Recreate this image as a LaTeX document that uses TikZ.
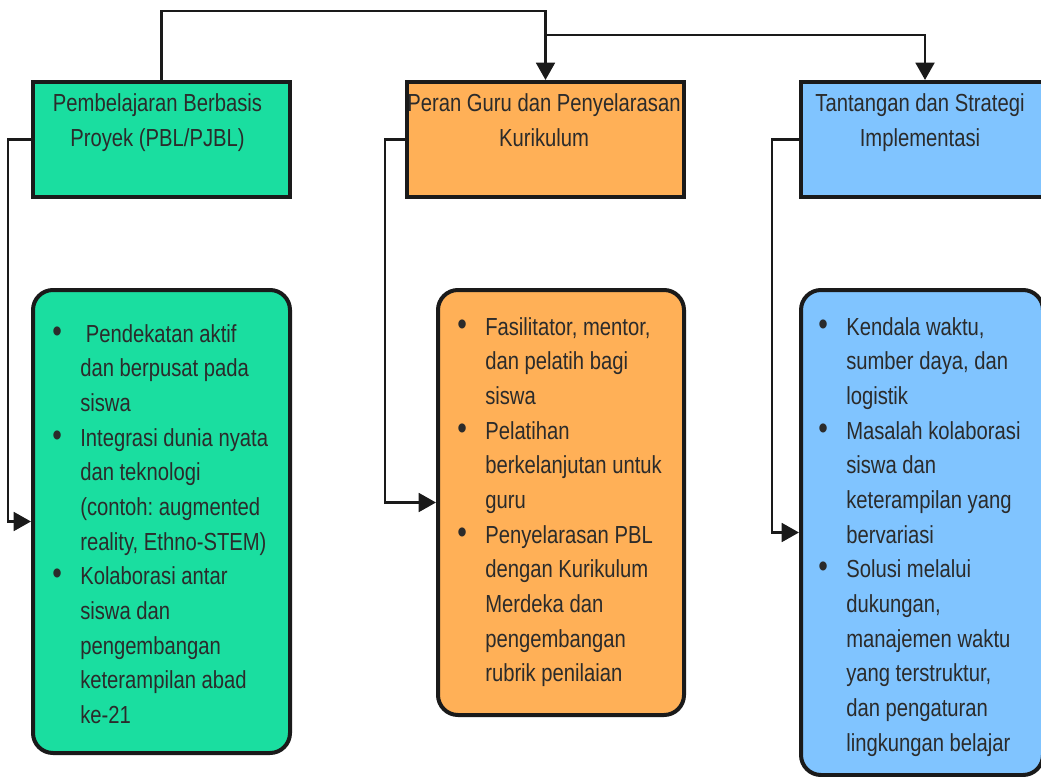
\documentclass[tikz,border=0pt]{standalone}
\usepackage{fontspec}
\setmainfont{Liberation Sans}[FakeStretch=0.82]
\usetikzlibrary{arrows.meta}
\definecolor{cgreen}{HTML}{1ADEA0}
\definecolor{corange}{HTML}{FFB057}
\definecolor{cblue}{HTML}{80C4FF}
\definecolor{cline}{HTML}{1A1A1A}
\definecolor{ctext}{HTML}{2B2B2B}
\frenchspacing
\newcommand{\bul}{\makebox[0pt]{\fontsize{25}{26}\selectfont\textbullet}}
\newenvironment{blist}{\begin{tabular}[t]{@{}l@{\hspace{17.25pt}}l@{}}}{\end{tabular}}
\begin{document}
\begin{tikzpicture}[x=0.75pt,y=-0.75pt,
  hdr/.style={draw=cline, line width=3pt, minimum height=86.25pt, inner sep=0pt},
  bodybox/.style={draw=cline, line width=3pt, rounded corners=15pt, inner sep=0pt},
  htxt/.style={inner sep=0pt, text=ctext, anchor=base, font=\fontsize{18.5}{26}\selectfont},
  btxt/.style={inner sep=0pt, text=ctext, anchor=base west, font=\fontsize{18.5}{26}\selectfont},
  conn/.style={draw=cline, line width=2.2pt},
  tip/.style={-{Triangle[length=13pt,width=14pt]}}]
\useasboundingbox (0,0) rectangle (1041,777);
\fill[white] (0,0) rectangle (1041,777);

% headers
\node[hdr, fill=cgreen, minimum width=192.75pt] (h1) at (161.5,139.5) {};
\node[hdr, fill=corange, minimum width=207.75pt] (h2) at (545.5,139.5) {};
\node[hdr, fill=cblue, minimum width=186pt] (h3) at (925,139.5) {};

\node[htxt] (h1t) at (157.5,112) {\parbox[t]{220pt}{\centering Pembelajaran Berbasis\\Proyek (PBL/PJBL)}};
\node[htxt] (h2t) at (544,112) {\parbox[t]{220pt}{\centering Peran Guru dan Penyelarasan\\Kurikulum}};
\node[htxt] (h3t) at (920,112) {\parbox[t]{220pt}{\centering Tantangan dan Strategi\\Implementasi}};

% bodies
\node[bodybox, fill=cgreen, minimum width=192.75pt, minimum height=347.25pt] (b1) at (161.5,521.5) {};
\node[bodybox, fill=corange, minimum width=184.5pt, minimum height=318.75pt] (b2) at (561,502.5) {};
\node[bodybox, fill=cblue, minimum width=181.5pt, minimum height=363.75pt] (b3) at (922,532.5) {};

\node[btxt] (b1t) at (57,342) {\begin{blist}
\bul & \ Pendekatan aktif\\ & dan berpusat pada\\ & siswa\\
\bul & Integrasi dunia nyata\\ & dan teknologi\\ & (contoh: augmented\\ & reality, Ethno-STEM)\\
\bul & Kolaborasi antar\\ & siswa dan\\ & pengembangan\\ & keterampilan abad\\ & ke-21
\end{blist}};

\node[btxt] (b2t) at (462,335) {\begin{blist}
\bul & Fasilitator, mentor,\\ & dan pelatih bagi\\ & siswa\\
\bul & Pelatihan\\ & berkelanjutan untuk\\ & guru\\
\bul & Penyelarasan PBL\\ & dengan Kurikulum\\ & Merdeka dan\\ & pengembangan\\ & rubrik penilaian
\end{blist}};

\node[btxt] (b3t) at (823,335) {\begin{blist}
\bul & Kendala waktu,\\ & sumber daya, dan\\ & logistik\\
\bul & Masalah kolaborasi\\ & siswa dan\\ & keterampilan yang\\ & bervariasi\\
\bul & Solusi melalui\\ & dukungan,\\ & manajemen waktu\\ & yang terstruktur,\\ & dan pengaturan\\ & lingkungan belajar
\end{blist}};

% connectors
\coordinate (tj) at (545.5,11);
\coordinate (bj) at (545.5,35);
\draw[conn, tip] (h1.north) |- (tj) -- (h2.north);
\draw[conn, tip] (bj) -| (h3.north);
\draw[conn, tip] (h1.west) -- ++(-23,0) |- (b1.west);
\draw[conn, tip] (h2.west) -- ++(-20,0) |- (b2.west);
\draw[conn, tip] (h3.west) -- ++(-27,0) |- (b3.west);
\end{tikzpicture}
\end{document}
